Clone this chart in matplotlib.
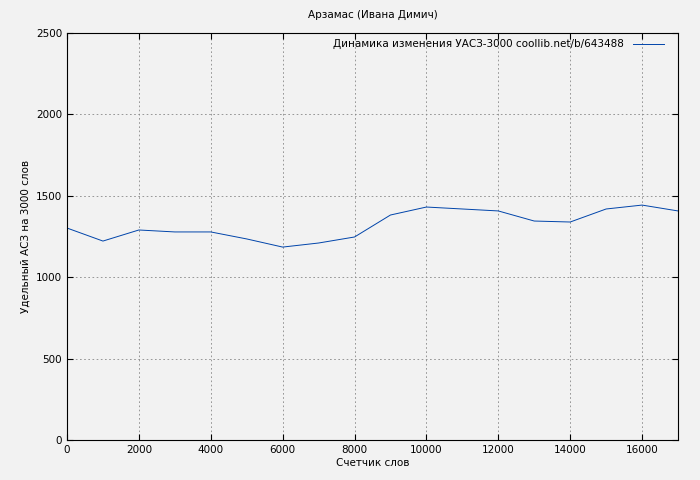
import matplotlib
matplotlib.use('Agg')
import matplotlib.pyplot as plt

words = [0, 1000, 2000, 3000, 4000, 5000, 6000, 7000, 8000, 9000,
         10000, 11000, 12000, 13000, 14000, 15000, 16000, 17000]
uasz = [1302, 1222, 1290, 1278, 1278, 1235, 1185, 1210, 1247, 1382,
        1431, 1419, 1407, 1345, 1339, 1419, 1443, 1407]

plt.rcParams['font.family'] = ['DejaVu Sans']
plt.rcParams['font.size'] = 7.5

fig = plt.figure(figsize=(7, 4.8), dpi=100, facecolor='#f2f2f2')
ax = fig.add_axes([67/700, 40/480, 611/700, 407/480], facecolor='#f2f2f2')

ax.plot(words, uasz, color='#0044aa', linewidth=0.7,
        label='Динамика изменения УАСЗ-3000 coollib.net/b/643488')
ax.set_xlim(0, 17000)
ax.set_ylim(0, 2500)
ax.set_xticks(range(0, 17000, 2000))
ax.set_yticks(range(0, 2501, 500))
ax.grid(True, linestyle=(0, (2, 3)), color='#888888', linewidth=0.6)
ax.tick_params(direction='in', length=4, top=True, right=True)
for s in ax.spines.values():
    s.set_linewidth(0.8)

ax.set_title('Арзамас (Ивана Димич)', fontsize=7.5, pad=11)
ax.set_xlabel('Счетчик слов', labelpad=2)
ax.set_ylabel('Удельный АСЗ на 3000 слов')

# легенда как в gnuplot: текст, потом образец линии
leg = ax.legend(loc='upper right', frameon=False, markerfirst=False,
                handlelength=3, borderaxespad=0.2,
                bbox_to_anchor=(1 - 8/611, 1))

fig.savefig('out.png', dpi=100, facecolor=fig.get_facecolor())
